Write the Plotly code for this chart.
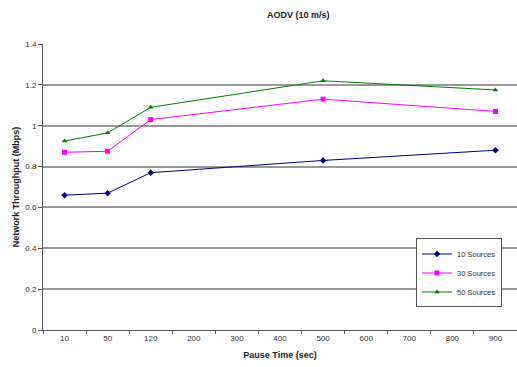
import plotly.graph_objects as go

categories = ["10", "50", "120", "200", "300", "400", "500", "600", "700", "800", "900"]
pause_times = ["10", "50", "120", "500", "900"]
src10 = [0.66, 0.67, 0.77, 0.83, 0.88]
src30 = [0.87, 0.875, 1.03, 1.13, 1.07]
src50 = [0.925, 0.965, 1.09, 1.22, 1.175]
y_ticks = [0, 0.2, 0.4, 0.6, 0.8, 1, 1.2, 1.4]

fig = go.Figure()
series = [
    ("10 Sources", src10, "#000080", "diamond", 5),
    ("30 Sources", src30, "#FF00FF", "square", 5),
    ("50 Sources", src50, "#008000", "triangle-up", 5),
]
for name, vals, col, sym, sz in series:
    fig.add_trace(go.Scatter(
        x=pause_times, y=vals, name=name, mode="lines+markers",
        line=dict(color=col, width=1),
        marker=dict(symbol=sym, color=col, size=sz),
    ))

font = "Liberation Sans, Arial, sans-serif"
fig.update_layout(
    width=517, height=367,
    margin=dict(l=43, r=0, t=44, b=37),
    paper_bgcolor="white", plot_bgcolor="white",
    font=dict(family=font, size=8, color="#333333"),
    title=dict(text="<b>AODV (10 m/s)</b>", x=0.577, xanchor="center",
               y=0.96, yanchor="middle", font=dict(size=9, color="#222222")),
    showlegend=True,
    legend=dict(x=0.787, y=0.32, xanchor="left", yanchor="top",
                bgcolor="white", bordercolor="#555555", borderwidth=1,
                font=dict(size=7.5, color="#333333"), itemwidth=30,
                tracegroupgap=0),
    xaxis=dict(type="category", categoryorder="array", categoryarray=categories,
               range=[-0.5, 10.5], tickson="boundaries", ticks="outside", ticklen=3,
               tickcolor="#555555", showgrid=False, showline=True, linecolor="#555555",
               linewidth=1, zeroline=False,
               title=dict(text="<b>Pause Time (sec)</b>", font=dict(size=9, color="#222222"),
                          standoff=10)),
    yaxis=dict(range=[0, 1.4], tickvals=y_ticks, ticktext=["0", "0.2", "0.4", "0.6", "0.8", "1", "1.2", "1.4"],
               ticks="outside", ticklen=4, tickcolor="#555555", showline=True,
               linecolor="#555555", linewidth=1, showgrid=True, gridcolor="#999999",
               gridwidth=1.5, zeroline=False,
               title=dict(text="<b>Network Throughput (Mbps)</b>",
                          font=dict(size=9, color="#222222"), standoff=4)),
)

fig.write_html("out.html")
